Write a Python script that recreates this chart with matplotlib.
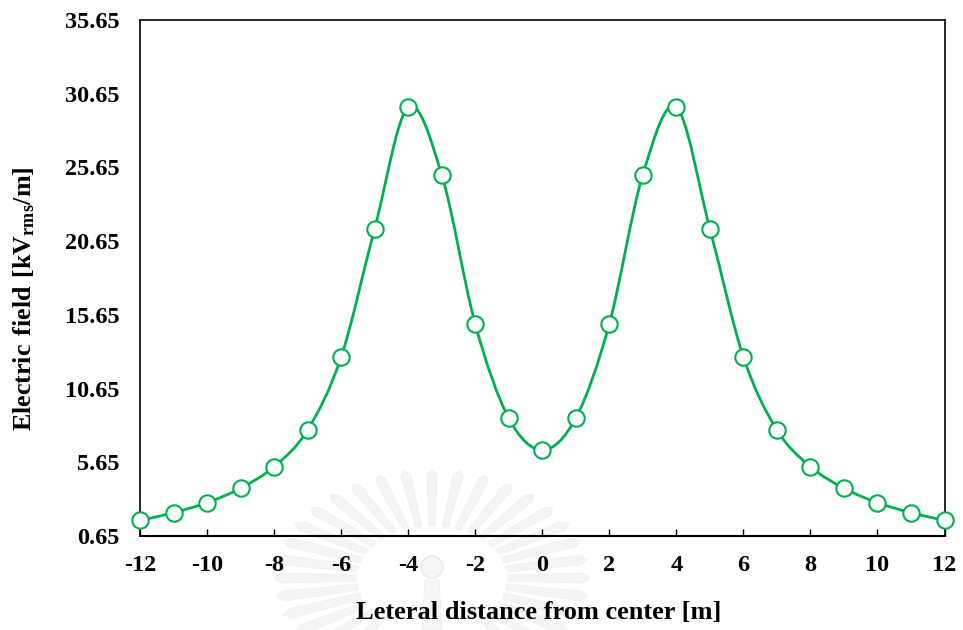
import numpy as np
import matplotlib
matplotlib.use("Agg")
import matplotlib.pyplot as plt
from matplotlib.path import Path
from matplotlib.patches import PathPatch, Polygon, Ellipse

plt.rcParams['font.family'] = ['Liberation Serif', 'DejaVu Serif']
plt.rcParams['font.weight'] = 'bold'
plt.rcParams['axes.unicode_minus'] = False
plt.rcParams['mathtext.fontset'] = 'custom'
plt.rcParams['mathtext.bf'] = 'Liberation Serif:bold'
plt.rcParams['mathtext.rm'] = 'Liberation Serif:bold'

distance = [-12, -11, -10, -9, -8, -7, -6, -5, -4, -3, -2, -1, 0,
            1, 2, 3, 4, 5, 6, 7, 8, 9, 10, 11, 12]
field = [1.71, 2.23, 2.91, 3.89, 5.35, 7.84, 12.79, 21.49, 29.73, 25.16, 15.03, 8.65, 6.48,
         8.65, 15.03, 25.16, 29.73, 21.49, 12.79, 7.84, 5.35, 3.89, 2.91, 2.23, 1.71]
x_ticks = [-12, -10, -8, -6, -4, -2, 0, 2, 4, 6, 8, 10, 12]
y_ticks = [0.65, 5.65, 10.65, 15.65, 20.65, 25.65, 30.65, 35.65]
x_title = "Leteral distance from center [m]"
y_title = r"$\mathbf{Electric\ field\ [kV_{rms}/m]}$"

W, H = 963, 630
GREEN = "#00B050"

fig = plt.figure(figsize=(W / 100, H / 100), dpi=100, facecolor="white")


def fx(px):
    return px / W


def fy(py):
    return 1 - py / H


# faint background watermark
cx, cy = 432, 578
for a in np.arange(-50, 231, 10):
    t = np.radians(a)
    d = np.array([np.cos(t) * 1.45, -np.sin(t)])
    n = np.array([np.sin(t), np.cos(t)])
    c = np.array([cx, cy])
    pts = [c + d * 52 - n * 3, c + d * 52 + n * 3,
           c + d * 104 + n * 5, c + d * 109, c + d * 104 - n * 5]
    fig.add_artist(Polygon([(fx(p[0]), fy(p[1])) for p in pts], closed=True,
                           transform=fig.transFigure, fc="#f4f4f4", ec="#eeeeee", lw=0.5, zorder=0))
fig.add_artist(Ellipse((fx(432), fy(567)), 22 / W, 22 / H, transform=fig.transFigure,
                       fc="#f6f6f6", ec="#e8e8e8", lw=1, zorder=0))
fig.add_artist(Polygon([(fx(p[0]), fy(p[1])) for p in [(425, 580), (439, 580), (442, 630), (422, 630)]],
                       closed=True, transform=fig.transFigure, fc="#f6f6f6", ec="#eeeeee", lw=0.5, zorder=0))

ax = fig.add_axes([fx(140), fy(536), (944.5 - 140) / W, (536 - 20) / H])
ax.patch.set_alpha(0)
ax.set_xlim(-12, 12)
ax.set_ylim(0.65, 35.65)

# smoothed connecting line through the points (Catmull-Rom beziers in data space)
P = np.column_stack([distance, field])
verts = [tuple(P[0])]
codes = [Path.MOVETO]
for i in range(len(P) - 1):
    p0 = P[max(i - 1, 0)]
    p1, p2 = P[i], P[i + 1]
    p3 = P[min(i + 2, len(P) - 1)]
    verts += [tuple(p1 + (p2 - p0) / 6), tuple(p2 - (p3 - p1) / 6), tuple(p2)]
    codes += [Path.CURVE4] * 3
ax.add_patch(PathPatch(Path(verts, codes), fc="none", ec=GREEN, lw=2.0, zorder=3))
ax.plot(distance, field, ls="none", marker="o", ms=11.8, mfc="white", mec=GREEN, mew=1.5,
        clip_on=False, zorder=4)

ax.set_xticks(x_ticks)
ax.set_yticks(y_ticks)
ax.set_yticklabels([f"{v:.2f}" for v in y_ticks])
ax.tick_params(axis="x", direction="in", length=5, width=1, pad=14, labelsize=17.5, color="black")
ax.tick_params(axis="y", length=0, pad=15, labelsize=17.5)
for s in ax.spines.values():
    s.set_linewidth(1.2)
ax.spines["bottom"].set_linewidth(1.5)

fig.text(fx(538.5), fy(612), x_title, ha="center", va="center", fontsize=19, fontweight="bold")
fig.text(fx(24), fy(299), y_title, ha="center", va="center", rotation=90, fontsize=18.7)

fig.savefig("out.png", dpi=100)
